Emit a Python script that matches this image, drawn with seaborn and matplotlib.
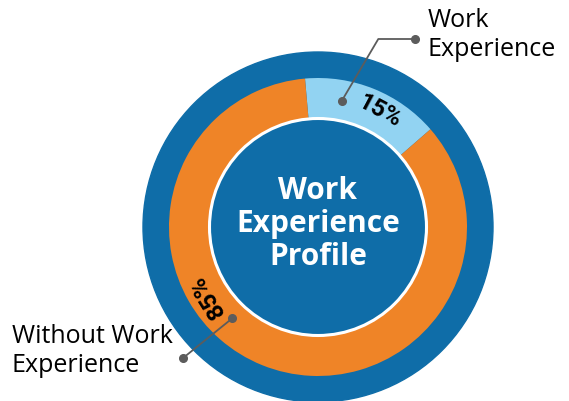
import numpy as np
import seaborn as sns
import matplotlib.pyplot as plt
from matplotlib.patches import Circle

# data
categories = ['Work Experience', 'Without Work Experience']
shares = [15, 85]
pct_labels = ['15%', '85%']
label_texts = ['Work\nExperience', 'Without Work\nExperience']

sns.set_theme(style='white')
plt.rcParams['font.family'] = ['Open Sans', 'DejaVu Sans']

dark_blue = '#0f6da8'
ring_colors = sns.color_palette(['#92d3f2', '#ef8427'])

W, H = 569, 401
fig = plt.figure(figsize=(W / 100, H / 100), dpi=100)
ax = fig.add_axes([0, 0, 1, 1])

cx, cy = 318, H - 227

# outer blue ring
ax.add_patch(Circle((cx, cy), 175, color=dark_blue, zorder=1))

# the donut
wedges, _ = ax.pie(shares, colors=ring_colors, startangle=41, counterclock=True,
                   radius=149, center=(cx, cy),
                   wedgeprops=dict(width=40, linewidth=0))
for w in wedges:
    w.set_zorder(2)

# inner disk with white rim
ax.add_patch(Circle((cx, cy), 108.5, facecolor=dark_blue, edgecolor='white',
                    linewidth=2.2, zorder=3))
ax.text(cx, cy + 3, 'Work\nExperience\nProfile', ha='center', va='center',
        color='white', fontsize=21.5, fontweight='bold', linespacing=1.14,
        zorder=4)

# percentage labels, placed along the ring
label_angles = [62, 212]
for txt, ang in zip(pct_labels, label_angles):
    r = 131
    x = cx + r * np.cos(np.radians(ang))
    y = cy + r * np.sin(np.radians(ang))
    ax.text(x, y, txt, ha='center', va='center', rotation=ang - 90,
            rotation_mode='anchor', fontsize=17.5, fontweight='bold',
            family=['Roboto', 'DejaVu Sans'], color='black', zorder=5)

# leader lines
lc = '#5c5c5c'
ax.plot([341.7, 378.3, 415], [H - 101, H - 39, H - 39], color=lc, lw=1.3,
        zorder=5)
ax.plot([341.7, 415], [H - 101, H - 39], 'o', color=lc, ms=5.5, zorder=6)
ax.plot([232.3, 182.7], [H - 318.3, H - 358.3], color=lc, lw=1.3, zorder=5)
ax.plot([232.3, 182.7], [H - 318.3, H - 358.3], 'o', color=lc, ms=5.5,
        zorder=6)

ax.text(428, H - 35, label_texts[0], ha='left', va='center', fontsize=18,
        color='black', linespacing=1.2)
ax.text(12, H - 351, label_texts[1], ha='left', va='center', fontsize=18,
        color='black', linespacing=1.2)

ax.set_xlim(0, W)
ax.set_ylim(0, H)
ax.set_aspect('auto')
ax.axis('off')

fig.savefig('out.png', dpi=100)
